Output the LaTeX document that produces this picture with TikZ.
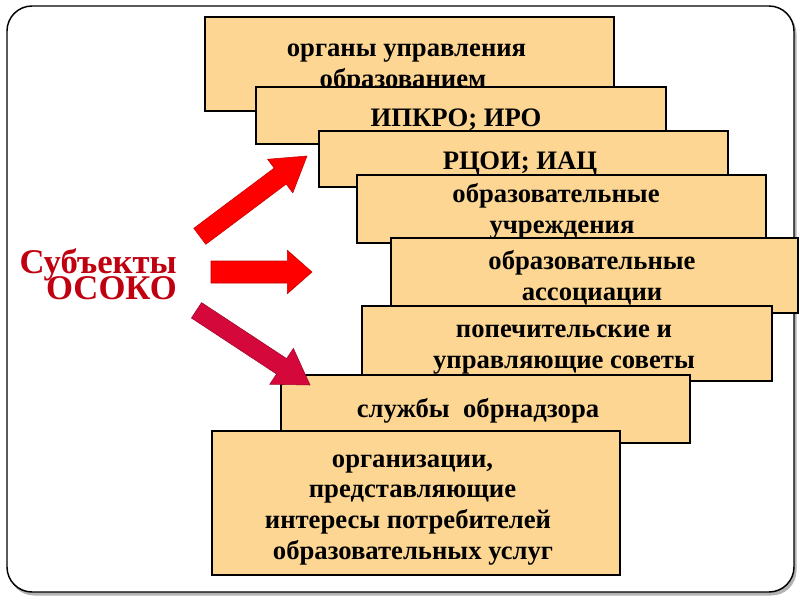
\documentclass[tikz,border=0pt]{standalone}
\usepackage{fontspec}
\setmainfont{Liberation Serif}
\usetikzlibrary{calc}
\definecolor{boxfill}{RGB}{252,214,146}
\definecolor{titlered}{RGB}{192,0,16}
\definecolor{arrowred}{RGB}{255,0,0}
\definecolor{arrowcrimson}{RGB}{212,8,58}
\newcommand\blockarrow[6]{%
  \coordinate (ba-h) at ($(#3)!#6!(#2)$);
  \filldraw[#1] ($(#2)!#4!90:(#3)$) -- ($(ba-h)!#4!90:(#3)$) -- ($(ba-h)!#5!90:(#3)$) -- (#3)
    -- ($(ba-h)!#5!-90:(#3)$) -- ($(ba-h)!#4!-90:(#3)$) -- ($(#2)!#4!-90:(#3)$) -- cycle;
}
\tikzset{
  panel/.style={fill=boxfill, draw=black, line width=0.8pt},
  txt/.style={font=\fontsize{20}{24}\selectfont\bfseries, inner sep=0pt, anchor=base},
  title/.style={font=\fontsize{26}{28}\selectfont\bfseries, text=titlered, inner sep=0pt, anchor=base east},
  redarrow/.style={fill=arrowred, draw=red!75!black, line width=0.4pt},
  crimsonarrow/.style={fill=arrowcrimson, draw=arrowcrimson!75!black, line width=0.4pt}
}
\begin{document}
\begin{tikzpicture}[x=0.75pt, y=-0.75pt]
\useasboundingbox (0,0) rectangle (800,600);
% frame
\fill[gray!60, rounded corners=18.75pt] (9,9) rectangle (796.5,595.5);
\filldraw[fill=white, draw=black, line width=1.1pt, rounded corners=18.75pt] (7,6) rectangle (794,592);
% boxes
\path[panel] (205,17) rectangle (614,111);
\node[txt] (b1a) at (406.5,56.5) {органы управления};
\node[txt] (b1b) at (403,87.5) {образованием};
\path[panel] (256,87) rectangle (666,144);
\node[txt] (b2a) at (456,126) {ИПКРО; ИРО};
\path[panel] (319,131) rectangle (728,187);
\node[txt] (b3a) at (520,169) {РЦОИ; ИАЦ};
\path[panel] (357,175) rectangle (766,243);
\node[txt] (b4a) at (556,202) {образовательные};
\node[txt] (b4b) at (562,233.5) {учреждения};
\path[panel] (391,238) rectangle (798,313);
\node[txt] (b5a) at (592,269) {образовательные};
\node[txt] (b5b) at (592,300.5) {ассоциации};
\path[panel] (362,306) rectangle (772,381);
\node[txt] (b6a) at (564,337) {попечительские и};
\node[txt] (b6b) at (564,368) {управляющие советы};
\path[panel] (281,375) rectangle (690,443);
\node[txt] (b7a) at (478,417) {службы\ \ обрнадзора};
\path[panel] (212,431) rectangle (620,575);
\node[txt] (b8a) at (412.5,467) {организации,};
\node[txt] (b8b) at (412.5,497.5) {представляющие};
\node[txt] (b8c) at (408,528) {интересы потребителей};
\node[txt] (b8d) at (413,559) {образовательных услуг};
% title
\node[title] (t1) at (177,273) {Субъекты};
\node[title] (t2) at (177,299) {ОСОКО};
% arrows
\coordinate (a1s) at (199.8,236.3);
\coordinate (a1e) at (307,156);
\coordinate (a2s) at (211,272);
\coordinate (a2e) at (312,272);
\coordinate (a3s) at (196.5,310.3);
\coordinate (a3e) at (310,385);
\blockarrow{redarrow}{a1s}{a1e}{7.5pt}{15.75pt}{25.1pt}
\blockarrow{redarrow}{a2s}{a2e}{8.25pt}{16.3pt}{18.5pt}
\blockarrow{crimsonarrow}{a3s}{a3e}{6.9pt}{16.1pt}{25.5pt}
\end{tikzpicture}
\end{document}
